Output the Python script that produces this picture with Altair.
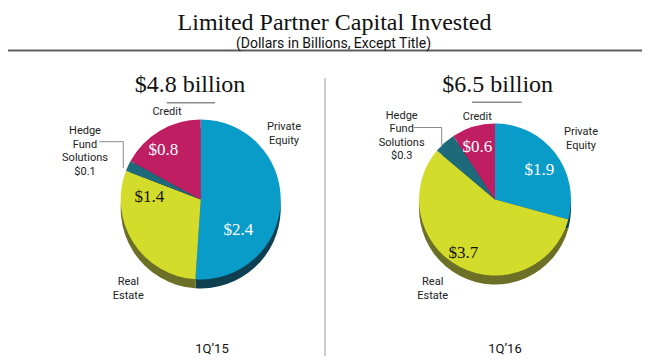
import altair as alt
import pandas as pd

# ---------------- data ----------------
categories = ["Private Equity", "Real Estate", "Hedge Fund Solutions", "Credit"]
periods = ["1Q’15", "1Q’16"]
values_1q15 = [2.4, 1.4, 0.1, 0.8]
values_1q16 = [1.9, 3.7, 0.3, 0.6]
totals = ["$4.8 billion", "$6.5 billion"]
title_text = "Limited Partner Capital Invested"
subtitle_text = "(Dollars in Billions, Except Title)"
cat_labels = ["Private\nEquity", "Real\nEstate", "Hedge\nFund\nSolutions\n${v}", "Credit"]

# ---------------- styles / layout ----------------
W, H = 634, 348
top_colors = ["#0a9cc8", "#d3dc2a", "#1d6b7a", "#c01e63"]
side_colors = ["#0e4052", "#6b7026", "#123f48", "#6e1038"]
SERIF = "Liberation Serif"
SANS = "Liberation Sans Narrow, Roboto, sans-serif"

pie_center = [(192.7, 191.5), (487.0, 191.5)]
pie_radius = [80, 76]
depth = 9
# value-label positions (per period, per category) -- None = shown in outer label
value_pos = [
    [(230.3, 222.0), (141.3, 188.7), None, (155.3, 142.0)],
    [(531.3, 162.0), (455.3, 244.7), None, (469.3, 139.3)],
]
# outer category label positions (centre x, top y of first line)
label_pos = [
    [(276.0, 113.0), (120.3, 268.0), (77.0, 117.0), (159.0, 98.0)],
    [(573.0, 118.0), (424.7, 268.0), (393.7, 101.5), (469.3, 102.5)],
]
header_pos = [(182.0, 84.0), (489.7, 84.0)]
header_rule = [(158.7, 207.0, 94.7), (464.0, 513.7, 94.3)]
period_pos = [(204.0, 341.0), (497.0, 341.0)]
leaders = [
    [(91.3, 115.3, 133.7, 133.7), (115.3, 115.3, 133.7, 160.0)],
    [(406.0, 433.7, 119.5, 119.5), (433.7, 433.7, 119.5, 139.5)],
]

xs = alt.Scale(domain=[0, W], nice=False, zero=False)
ys = alt.Scale(domain=[0, H], nice=False, zero=False, reverse=True)


def xy_text(df, **kw):
    return alt.Chart(df).mark_text(**kw).encode(
        x=alt.X("x:Q", scale=xs, axis=None),
        y=alt.Y("y:Q", scale=ys, axis=None),
        text=alt.Text("text:N"),
    )


def xy_rule(df, **kw):
    return alt.Chart(df).mark_rule(**kw).encode(
        x=alt.X("x:Q", scale=xs, axis=None),
        x2="x2:Q",
        y=alt.Y("y:Q", scale=ys, axis=None),
        y2="y2:Q",
    )


layers = []

# frame rules
layers.append(xy_rule(pd.DataFrame({"x": [0], "x2": [W], "y": [42.5], "y2": [42.5]}),
                      color="#5f5f5f", strokeWidth=2))
layers.append(xy_rule(pd.DataFrame({"x": [317], "x2": [317], "y": [70], "y2": [H]}),
                      color="#9a9a9a", strokeWidth=1))

# title and subtitle
layers.append(xy_text(pd.DataFrame({"text": [title_text], "x": [326.5], "y": [21.5]}),
                      font=SERIF, fontSize=24, color="#111", baseline="alphabetic"))
layers.append(xy_text(pd.DataFrame({"text": [subtitle_text], "x": [325.5], "y": [40.0]}),
                      font=SANS, fontSize=14, color="#111", baseline="alphabetic"))

all_values = [values_1q15, values_1q16]
for i, period in enumerate(periods):
    vals = all_values[i]
    df = pd.DataFrame({"category": categories, "value": vals, "order": list(range(len(categories)))})
    cx, cy = pie_center[i]
    r = pie_radius[i]
    base = alt.Chart(df)
    side = base.mark_arc(radius=r, stroke=None).encode(
        theta=alt.Theta("value:Q", stack=True),
        order=alt.Order("order:Q"),
        color=alt.Color("category:N", scale=alt.Scale(domain=categories, range=side_colors), legend=None),
        x=alt.value(cx), y=alt.value(cy + depth),
    )
    top = base.mark_arc(radius=r, stroke=None).encode(
        theta=alt.Theta("value:Q", stack=True),
        order=alt.Order("order:Q"),
        color=alt.Color("category:N", scale=alt.Scale(domain=categories, range=top_colors), legend=None),
        x=alt.value(cx), y=alt.value(cy),
    )
    layers += [side, top]

    # value labels inside slices
    rows = []
    for c, v, p in zip(categories, vals, value_pos[i]):
        if p is None:
            continue
        rows.append({"text": f"${v:.1f}", "x": p[0], "y": p[1], "category": c})
    vdf = pd.DataFrame(rows)
    layers.append(
        alt.Chart(vdf).mark_text(font=SERIF, fontSize=17, baseline="middle").encode(
            x=alt.X("x:Q", scale=xs, axis=None),
            y=alt.Y("y:Q", scale=ys, axis=None),
            text="text:N",
            color=alt.condition(alt.datum.category == "Real Estate", alt.value("#111111"), alt.value("#ffffff")),
        )
    )

    # outer category labels
    rows = []
    for c, lab, v, p in zip(categories, cat_labels, vals, label_pos[i]):
        rows.append({"text": lab.replace("{v}", f"{v:.1f}"), "x": p[0], "y": p[1]})
    layers.append(xy_text(pd.DataFrame(rows), font=SANS, fontSize=11, color="#222",
                          baseline="top", lineBreak="\n", lineHeight=13.5))

    # leader line
    ldf = pd.DataFrame([{"x": a, "x2": b, "y": c, "y2": d} for a, b, c, d in leaders[i]])
    layers.append(xy_rule(ldf, color="#8a8a8a", strokeWidth=1))

    # header
    hx, hy = header_pos[i]
    layers.append(xy_text(pd.DataFrame({"text": [totals[i]], "x": [hx], "y": [hy]}),
                          font=SERIF, fontSize=24, color="#111", baseline="alphabetic"))
    a, b, yy = header_rule[i]
    layers.append(xy_rule(pd.DataFrame({"x": [a], "x2": [b], "y": [yy], "y2": [yy]}),
                          color="#8c8c8c", strokeWidth=1.5))

    # period label
    px, py = period_pos[i]
    layers.append(xy_text(pd.DataFrame({"text": [period], "x": [px], "y": [py]}),
                          font=SANS, fontSize=13, color="#111", baseline="middle"))

chart = alt.layer(*layers).resolve_scale(theta="independent", color="independent").properties(
    width=W, height=H, padding=0, autosize=alt.AutoSizeParams(type="none"),
    background="white",
).configure_view(stroke=None)

chart.save("out.html", embed_options={"renderer": "svg", "actions": False})
